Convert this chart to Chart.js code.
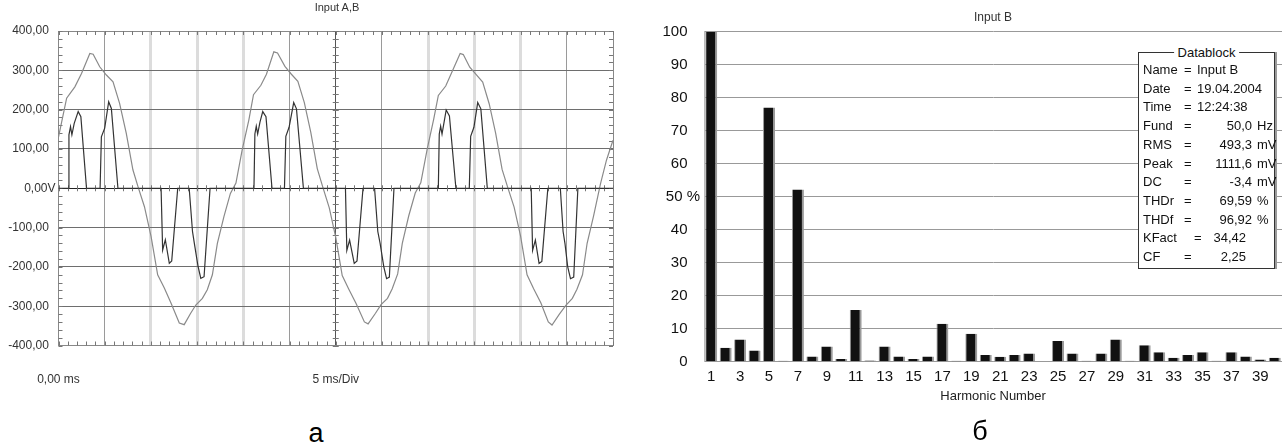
<!DOCTYPE html>
<html>
<head>
<meta charset="utf-8">
<script src="https://cdn.jsdelivr.net/npm/chart.js@4.4.1/dist/chart.umd.min.js"></script>
<style>
  body { margin: 0; background: #fff; width: 1282px; height: 445px; position: relative; overflow: hidden;
         font-family: 'Liberation Sans', Arial, sans-serif; }
  canvas { position: absolute; top: 0; }
  #waveChart { left: 0; }
  #harmChart { left: 640px; }
  .title { position: absolute; transform: translateX(-50%); white-space: nowrap; color: #333; }
  .caption { position: absolute; font-size: 27px; line-height: 27px; color: #000; transform: translateX(-50%); }
  #datablock { position: absolute; left: 1138px; top: 52px; width: 135px; height: 215px;
               border: 1px solid #333; box-shadow: 2px 0 0 #9a9a9a; font-size: 13px; color: #111; background: #fff; }
  #datablock .db-title { position: absolute; top: -8px; left: 50%; transform: translateX(-50%);
                         background: #fff; padding: 0 4px; line-height: 15px; white-space: nowrap; }
  #datablock .row { position: absolute; left: 0; right: 0; height: 18px; line-height: 18px; white-space: nowrap; }
  #datablock .row span { position: absolute; }
</style>
</head>
<body>
<canvas id="waveChart" width="640" height="400"></canvas>
<canvas id="harmChart" width="642" height="420"></canvas>

<div class="title" style="left:337px; top:1px; font-size:11px;">Input A,B</div>
<div class="title" style="left:993px; top:10px; font-size:12px;">Input B</div>
<div class="caption" style="left:316px; top:420px;">а</div>
<div class="caption" style="left:980px; top:418px;">б</div>
<div id="datablock"><div class="db-title">Datablock</div></div>

<script>
// ---- chart a: scope traces (ms, V) ----
const voltTickValues = [-400, -300, -200, -100, 0, 100, 200, 300, 400];
const voltTickLabels = ['-400,00', '-300,00', '-200,00', '-100,00', '0,00V', '100,00', '200,00', '300,00', '400,00'];

// grey trace (input A)
const uTime = [0, 0.88, 1.77, 2.49, 3.39, 3.75, 4.46, 5.18, 5.9, 6.61, 7.33, 8.05, 8.6, 9.3, 10.02, 10.73, 11.45, 12.17, 13.07, 13.6,
  14.3, 14.86, 15.57, 16.1, 16.65, 17.19, 17.9, 18.6, 19.2, 19.87,
  20.6, 21.1, 21.9, 22.5, 23.3, 23.7, 24.5, 25.2, 25.9, 26.6, 27.3, 28.0, 28.6, 29.3, 30.0, 30.7, 31.4, 32.2, 33.1, 33.5,
  34.3, 34.9, 35.6, 36.1, 36.7, 37.2, 37.9, 38.6, 39.2, 39.9,
  40.6, 41.1, 41.9, 42.5, 43.46, 43.8, 44.5, 45.2, 45.9, 46.6, 47.3, 48.0, 48.6, 49.3, 50.0, 50.7, 51.4, 52.2, 53.0, 53.4,
  54.2, 54.9, 55.6, 56.1, 56.7, 57.2, 57.9, 58.65, 59.3, 60];
const uValues = [130, 229, 258, 292, 343, 341, 309, 288, 271, 216, 140, 47, 4, -47, -123, -220, -254, -292, -343, -347,
  -318, -297, -280, -258, -220, -140, -72, -13, 13, 97,
  174, 238, 262, 290, 347, 344, 310, 290, 272, 218, 142, 50, 3, -50, -125, -222, -256, -293, -340, -345,
  -318, -296, -280, -256, -218, -140, -70, -12, 14, 100,
  176, 236, 260, 292, 343, 340, 308, 289, 270, 215, 140, 48, 3, -48, -122, -220, -255, -292, -340, -348,
  -320, -298, -280, -257, -220, -140, -70, 12, 72, 122];

// dark trace (input B)
const iTime = [0, 1.05, 1.13, 1.3, 1.45, 1.7, 2.13, 2.42, 3.03, 4.5, 4.64, 5.0, 5.43, 5.72, 6.43,
  11.1, 11.27, 11.56, 11.99, 12.25, 12.9, 14.14, 14.5, 14.7, 15.1, 15.4, 15.75, 16.4,
  21.15, 21.25, 21.4, 21.55, 21.8, 22.1, 22.45, 23.1, 24.45, 24.6, 24.95, 25.45, 25.75, 26.5,
  31.05, 31.2, 31.5, 32.0, 32.3, 32.95, 34.2, 34.55, 34.8, 35.2, 35.5, 35.8, 36.3,
  41.1, 41.2, 41.35, 41.5, 41.7, 41.95, 42.3, 43.0, 44.45, 44.6, 44.95, 45.36, 45.7, 46.4,
  51.15, 51.3, 51.6, 52.0, 52.3, 52.95, 54.3, 54.6, 54.8, 55.1, 55.4, 55.75, 56.2, 60];
const iValues = [0, 0, 136, 157, 136, 165, 195, 182, 0, 0, 131, 153, 220, 203, 0,
  0, -157, -131, -191, -185, 0, 0, -110, -140, -199, -229, -225, 0,
  0, 138, 158, 138, 168, 195, 182, 0, 0, 132, 155, 218, 202, 0,
  0, -158, -132, -191, -185, 0, 0, -110, -140, -200, -230, -226, 0,
  0, 138, 158, 138, 165, 199, 184, 0, 0, 132, 155, 218, 202, 0,
  0, -158, -132, -191, -186, 0, 0, -110, -140, -200, -230, -226, 0, 0];

// ---- chart b: harmonic spectrum ----
const harmonicNumbers = [1, 2, 3, 4, 5, 6, 7, 8, 9, 10, 11, 12, 13, 14, 15, 16, 17, 18, 19, 20,
  21, 22, 23, 24, 25, 26, 27, 28, 29, 30, 31, 32, 33, 34, 35, 36, 37, 38, 39, 40];
const harmonicPercent = [100, 4.2, 6.7, 3.4, 77.0, 0.3, 52.2, 1.6, 4.6, 0.8, 15.7, 0.4, 4.6, 1.6, 0.8, 1.6, 11.5, 0.3, 8.5, 2.0,
  1.5, 2.0, 2.5, 0, 6.3, 2.5, 0.3, 2.5, 6.7, 0.3, 5.0, 2.9, 1.2, 2.0, 2.9, 0.3, 2.9, 1.6, 0.7, 1.2];

// datablock text
const dbLabels = ['Name', 'Date', 'Time', 'Fund', 'RMS', 'Peak', 'DC', 'THDr', 'THDf', 'KFact', 'CF'];
const dbValues = ['Input B', '19.04.2004', '12:24:38', '50,0', '493,3', '1111,6', '-3,4', '69,59', '96,92', '34,42', '2,25'];
const dbUnits = ['', '', '', 'Hz', 'mV', 'mV', 'mV', '%', '%', '', ''];

Chart.defaults.font.family = "'Liberation Sans', Arial, sans-serif";
Chart.defaults.animation = false;

const NBSP = '\u00a0';

// small scope ticks on the frame and on the centre cross
const scopeTicks = {
  id: 'scopeTicks',
  beforeDatasetsDraw(chart) {
    const {ctx, chartArea: a, scales: {x, y}} = chart;
    const x0 = x.getPixelForValue(30);
    const y0 = y.getPixelForValue(0);
    ctx.save();
    ctx.strokeStyle = '#777';
    ctx.lineWidth = 1;
    ctx.beginPath();
    for (let t = 0; t <= 60; t++) {
      const px = Math.round(x.getPixelForValue(t)) + 0.5;
      ctx.moveTo(px, a.top); ctx.lineTo(px, a.top + 4);
      ctx.moveTo(px, a.bottom - 4); ctx.lineTo(px, a.bottom);
      ctx.moveTo(px, y0 - 3); ctx.lineTo(px, y0 + 3);
    }
    for (let v = -400; v <= 400; v += 20) {
      const py = Math.round(y.getPixelForValue(v)) + 0.5;
      ctx.moveTo(a.left, py); ctx.lineTo(a.left + 4, py);
      ctx.moveTo(a.right - 4, py); ctx.lineTo(a.right, py);
      ctx.moveTo(x0 - 3, py); ctx.lineTo(x0 + 3, py);
    }
    ctx.stroke();
    ctx.restore();
  }
};

function xGridColor(v) {
  if (v === 0 || v === 60) return '#888';
  if (v === 30) return '#555';
  if (v === 5 || v === 25 || v === 35 || v === 55) return '#9a9a9a';
  return '#dcdcdc';
}

new Chart(document.getElementById('waveChart'), {
  type: 'line',
  data: {
    datasets: [{
      label: 'Input B',
      data: iTime.map((t, i) => ({x: t, y: iValues[i]})),
      borderColor: '#333',
      borderWidth: 1.2,
      pointRadius: 0,
      tension: 0
    }, {
      label: 'Input A',
      data: uTime.map((t, i) => ({x: t, y: uValues[i]})),
      borderColor: '#8a8a8a',
      borderWidth: 1.2,
      pointRadius: 0,
      tension: 0
    }]
  },
  plugins: [scopeTicks],
  options: {
    responsive: false,
    layout: { padding: { left: 0, right: 24, top: 31, bottom: 9.5 } },
    plugins: { legend: { display: false }, tooltip: { enabled: false } },
    scales: {
      x: {
        type: 'linear', min: 0, max: 60,
        afterFit: s => { s.height = 45; },
        ticks: {
          stepSize: 5, autoSkip: false, maxRotation: 0, padding: 27,
          color: '#333', font: { size: 12 },
          callback: v => (v === 0 ? '0,00 ms' : v === 30 ? '5 ms/Div' : '')
        },
        grid: {
          drawTicks: false,
          color: c => xGridColor(c.tick.value),
          lineWidth: c => (xGridColor(c.tick.value) === '#dcdcdc' ? 3 : 1)
        },
        border: { color: '#888' }
      },
      y: {
        min: -400, max: 400,
        afterFit: s => { s.width = 58.5; },
        afterBuildTicks: s => { s.ticks = voltTickValues.map(v => ({value: v})); },
        ticks: {
          padding: 3, color: '#333', font: { size: 12 },
          callback: v => {
            const label = voltTickLabels[voltTickValues.indexOf(v)];
            return v === 0 ? label : label + NBSP + NBSP;
          }
        },
        grid: {
          drawTicks: false,
          color: c => (c.tick.value === 0 ? '#222' : (Math.abs(c.tick.value) === 400 ? '#888' : '#6e6e6e'))
        },
        border: { color: '#888' }
      }
    }
  }
});

new Chart(document.getElementById('harmChart'), {
  type: 'bar',
  data: {
    labels: harmonicNumbers,
    datasets: [{
      label: 'Input B',
      data: harmonicPercent,
      backgroundColor: '#111',
      borderColor: '#9a9a9a',
      borderWidth: { left: 1, right: 2, top: 0, bottom: 0 },
      borderSkipped: false,
      barPercentage: 0.83,
      categoryPercentage: 1.0
    }]
  },
  options: {
    responsive: false,
    layout: { padding: { left: 0, right: 0, top: 31.7, bottom: 15.3 } },
    plugins: { legend: { display: false }, tooltip: { enabled: false } },
    scales: {
      x: {
        afterFit: s => { s.height = 43; },
        ticks: {
          autoSkip: false, maxRotation: 0, padding: 6, color: '#111', font: { size: 15 },
          callback: (v, i) => (harmonicNumbers[i] % 2 === 1 ? String(harmonicNumbers[i]) : '')
        },
        grid: { display: false, drawTicks: false },
        border: { color: '#999' },
        title: { display: true, text: 'Harmonic Number', color: '#222', font: { size: 13 }, padding: 0 }
      },
      y: {
        min: 0, max: 100,
        afterFit: s => { s.width = 64; },
        ticks: {
          stepSize: 10, padding: 4, color: '#111', font: { size: 15 },
          callback: v => (v === 50 ? '50 %' : v + NBSP + NBSP + NBSP)
        },
        grid: { drawTicks: false, color: '#999' },
        border: { color: '#bbb' }
      }
    }
  }
});

// datablock rows
const box = document.getElementById('datablock');
dbLabels.forEach((name, i) => {
  const row = document.createElement('div');
  row.className = 'row';
  row.style.top = (8 + i * 18.7) + 'px';
  const k = document.createElement('span');
  k.textContent = name;
  k.style.left = '4px';
  const eq = document.createElement('span');
  eq.textContent = '=';
  eq.style.left = (name === 'KFact' ? 55 : 45) + 'px';
  const val = document.createElement('span');
  val.textContent = dbValues[i];
  if (i < 3) {
    val.style.left = '58px';
  } else {
    val.style.right = (dbUnits[i] ? 22 : 28) + 'px';
  }
  row.append(k, eq, val);
  if (dbUnits[i]) {
    const u = document.createElement('span');
    u.textContent = dbUnits[i];
    u.style.left = '118px';
    row.append(u);
  }
  box.append(row);
});
</script>
</body>
</html>
